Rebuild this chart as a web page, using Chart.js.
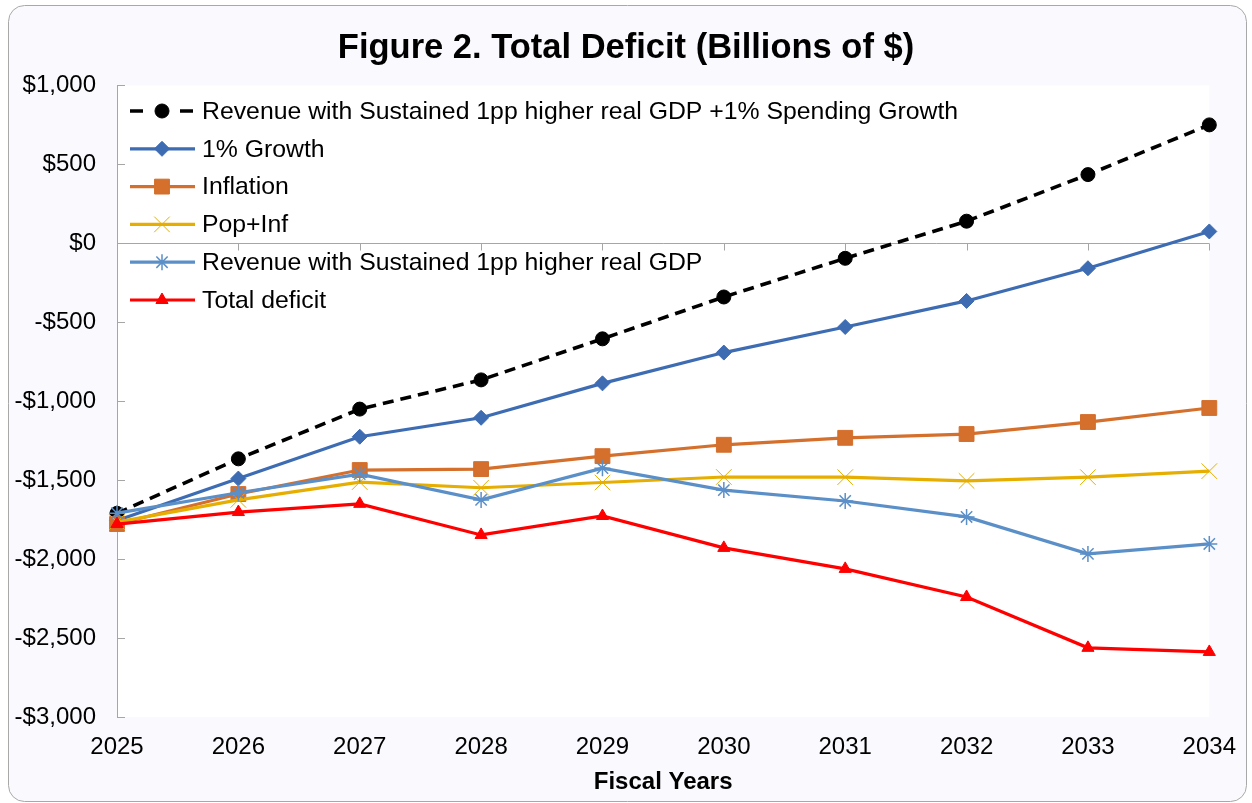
<!DOCTYPE html>
<html>
<head>
<meta charset="utf-8">
<script src="https://cdn.jsdelivr.net/npm/chart.js@4/dist/chart.umd.min.js"></script>
<style>
  html, body { margin: 0; padding: 0; background: #ffffff; }
  #wrap { width: 1252px; height: 803px; }
</style>
</head>
<body>
<div id="wrap"><canvas id="deficitChart" width="1252" height="803"></canvas></div>
<script>
// data (billions of $)
const years = ['2025', '2026', '2027', '2028', '2029', '2030', '2031', '2032', '2033', '2034'];
const revPlusSpending = [-1710, -1365, -1050, -865, -605, -340, -95, 140, 435, 750];
const growth1 = [-1755, -1490, -1225, -1105, -887, -692, -530, -365, -158, 75];
const inflation = [-1778, -1588, -1436, -1430, -1348, -1276, -1232, -1208, -1132, -1043];
const popInf = [-1766, -1625, -1512, -1548, -1515, -1480, -1481, -1505, -1481, -1443];
const revSustained = [-1709, -1580, -1462, -1625, -1424, -1563, -1632, -1733, -1967, -1904];
const totalDeficit = [-1778, -1702, -1650, -1847, -1727, -1929, -2062, -2240, -2562, -2588];
const seriesNames = [
    'Revenue with Sustained 1pp higher real GDP +1% Spending Growth',
    '1% Growth',
    'Inflation',
    'Pop+Inf',
    'Revenue with Sustained 1pp higher real GDP',
    'Total deficit'
];

const FONT = "'Liberation Sans', Arial, sans-serif";
const AXIS_GREY = '#a6a6a6';

function money(v) {
    const s = Math.abs(v).toString().replace(/\B(?=(\d{3})+(?!\d))/g, ',');
    return (v < 0 ? '-$' : '$') + s;
}

function series(label, data, color, pointStyle, radius, extra) {
    return Object.assign({
        label: label,
        data: data,
        borderColor: color,
        backgroundColor: color,
        borderWidth: 3.2,
        pointStyle: pointStyle,
        pointRadius: radius,
        pointHoverRadius: radius,
        pointBorderColor: color,
        pointBackgroundColor: color,
        pointBorderWidth: 1,
        tension: 0,
        fill: false,
        clip: false
    }, extra || {});
}

// frame, plot background, zero line, tick marks and the in-plot legend
const framePlugin = {
    id: 'frame',
    beforeDraw(chart) {
        const ctx = chart.ctx;
        const a = chart.chartArea;
        ctx.save();
        ctx.beginPath();
        ctx.roundRect(8.5, 5.5, 1238, 796, 16);
        ctx.fillStyle = '#f9f9fe';
        ctx.fill();
        ctx.strokeStyle = '#a8a8a8';
        ctx.lineWidth = 1;
        ctx.stroke();
        ctx.fillStyle = '#ffffff';
        ctx.fillRect(a.left, a.top, a.right - a.left, a.bottom - a.top);
        ctx.restore();
    },
    beforeDatasetsDraw(chart) {
        const ctx = chart.ctx;
        const a = chart.chartArea;
        const x = chart.scales.x;
        const y = chart.scales.y;
        const y0 = Math.round(y.getPixelForValue(0)) + 0.5;
        ctx.save();
        ctx.strokeStyle = AXIS_GREY;
        ctx.lineWidth = 1;
        ctx.beginPath();
        ctx.moveTo(a.left, y0);
        ctx.lineTo(a.right, y0);
        years.forEach((yr, i) => {
            const px = Math.round(x.getPixelForValue(i)) + 0.5;
            ctx.moveTo(px, y0);
            ctx.lineTo(px, y0 + 7);
        });
        y.ticks.forEach(t => {
            const py = Math.round(y.getPixelForValue(t.value)) + 0.5;
            ctx.moveTo(a.left, py);
            ctx.lineTo(a.left + 8, py);
        });
        ctx.stroke();
        ctx.restore();
    },
    afterDatasetsDraw(chart) {
        const ctx = chart.ctx;
        const x1 = 130, x2 = 195, xm = 162, xt = 202;
        ctx.save();
        chart.data.datasets.forEach((ds, i) => {
            const ly = 111 + i * 37.8;
            ctx.save();
            ctx.strokeStyle = ds.borderColor;
            ctx.lineWidth = ds.borderWidth;
            if (ds.borderDash) ctx.setLineDash([13, 37]);
            ctx.beginPath();
            ctx.moveTo(x1, ly);
            ctx.lineTo(x2, ly);
            ctx.stroke();
            ctx.restore();
            ctx.save();
            ctx.strokeStyle = ds.pointBorderColor;
            ctx.fillStyle = ds.pointBackgroundColor;
            ctx.lineWidth = ds.pointBorderWidth;
            Chart.helpers.drawPoint(ctx, { pointStyle: ds.pointStyle, radius: ds.pointRadius, rotation: 0, borderWidth: ds.pointBorderWidth }, xm, ly);
            ctx.restore();
            ctx.fillStyle = '#000000';
            ctx.font = '24.8px ' + FONT;
            ctx.textBaseline = 'middle';
            ctx.textAlign = 'left';
            ctx.fillText(ds.label, xt, ly + 1);
        });
        ctx.restore();
    }
};

const datasets = [
    series(seriesNames[0], revPlusSpending, '#000000', 'circle', 7, { borderDash: [11, 7], borderWidth: 3.6, order: 5 }),
    series(seriesNames[1], growth1, '#3d6cb3', 'rectRot', 7.5, { order: 4 }),
    series(seriesNames[2], inflation, '#d46f2c', 'rect', 10.5, { order: 3 }),
    series(seriesNames[3], popInf, '#e6ae00', 'crossRot', 11, { order: 2 }),
    series(seriesNames[4], revSustained, '#5b8fc8', 'star', 8, { pointBorderWidth: 1.5, order: 1 }),
    series(seriesNames[5], totalDeficit, '#ff0000', 'triangle', 7, { order: 0 })
];

new Chart(document.getElementById('deficitChart').getContext('2d'), {
    type: 'line',
    data: { labels: years, datasets: datasets },
    plugins: [framePlugin],
    options: {
        responsive: false,
        animation: false,
        layout: { padding: 0 },
        scales: {
            x: {
                offset: false,
                grid: { display: false, drawTicks: false },
                border: { display: false },
                ticks: { color: '#000000', font: { family: FONT, size: 24 }, padding: 16, maxRotation: 0, autoSkip: false },
                title: { display: true, text: 'Fiscal Years', color: '#000000', font: { family: FONT, size: 24, weight: 'bold' }, padding: { top: 0, bottom: 6 } },
                afterFit(scale) { scale.height = 86; }
            },
            y: {
                min: -3000,
                max: 1000,
                grid: { display: false, drawTicks: false },
                border: { display: true, color: AXIS_GREY, width: 1 },
                ticks: { stepSize: 500, color: '#000000', font: { family: FONT, size: 24 }, padding: 21, callback: v => money(v) },
                afterFit(scale) { scale.width = 117; }
            },
            // empty spacer on the right so the plot ends where the original does
            yRight: {
                position: 'right',
                grid: { display: false, drawTicks: false },
                border: { display: false },
                ticks: { display: false },
                afterFit(scale) { scale.width = 39; }
            }
        },
        plugins: {
            legend: { display: false },
            tooltip: { enabled: false },
            title: {
                display: true,
                text: 'Figure 2. Total Deficit (Billions of $)',
                color: '#000000',
                font: { family: FONT, size: 34.5, weight: 'bold' },
                padding: { top: 28, bottom: 16 }
            }
        }
    }
});
</script>
</body>
</html>
